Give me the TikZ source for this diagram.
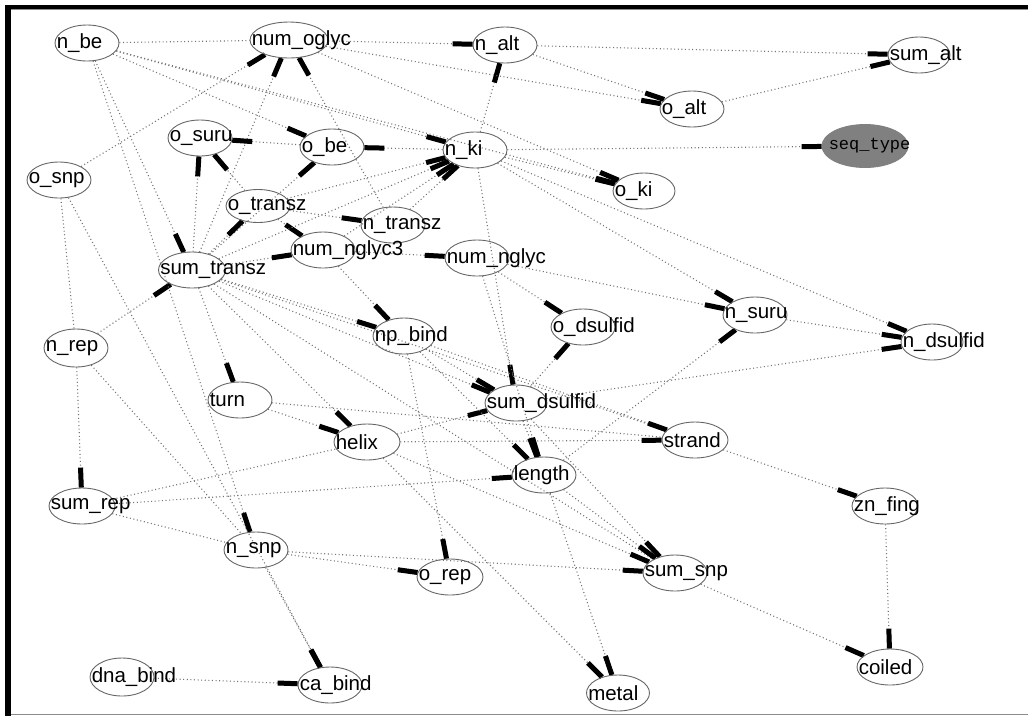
\documentclass[tikz,border=0pt]{standalone}
\usepackage{fontspec}
\setmainfont{Liberation Sans}
\newfontfamily\seqfont{Liberation Mono}
\usetikzlibrary{arrows.meta,shapes.geometric,backgrounds}

\tikzset{
  ell/.style={ellipse, draw=black!60, line width=0.9pt,
              minimum width=64pt, minimum height=36pt, inner sep=0pt},
  lab/.style={anchor=west, inner sep=0pt, font=\fontsize{20.5}{22}\selectfont},
  link/.style={draw=black!55, line width=1.1pt, dash pattern=on 1pt off 2.6pt},
  tip/.style={-{Rectangle[length=20pt,width=5pt,color=black]}},
}

% a variable of the network: an ellipse with its name set from the left edge
\newcommand\netnode[4][]{%
  \node[ell,#1] (#2) at (#3) {};
  \node[lab] (#2-t) at ([xshift=2pt]#2.west) {#4};
}

\begin{document}
\begin{tikzpicture}[x=1pt,y=-1pt]
\useasboundingbox (0,0) rectangle (1028,716);

% window frame
\fill[black] (5,4.5) rectangle (1028,8.5);
\fill[black] (5,4.5) rectangle (11,716);
\draw[black!45, line width=1pt] (11,9.2) -- (1028,9.2);
\draw[black!45, line width=1pt] (11,714.5) -- (1028,714.5);

% ---------------- variables ----------------
\netnode{nbe}{87,43}{n\_be}
\netnode[minimum width=78pt]{numoglyc}{289,40}{num\_oglyc}
\netnode{nalt}{505,45}{n\_alt}
\netnode[minimum width=62pt]{sumalt}{919,55}{sum\_alt}
\netnode{oalt}{692,109}{o\_alt}
\node[ell, fill=black!50, draw=black!50, minimum width=86pt, minimum height=43pt] (seqtype) at (865,146) {};
\node[anchor=west, inner sep=0pt, font=\seqfont\fontsize{17}{19}\selectfont] (seqtype-t) at ([xshift=7pt]seqtype.west) {seq\_type};
\netnode{osuru}{200,138}{o\_suru}
\netnode{obe}{332,147}{o\_be}
\netnode{nki}{475,150}{n\_ki}
\netnode[minimum width=62pt]{oki}{644,191}{o\_ki}
\netnode{osnp}{59,180}{o\_snp}
\netnode[minimum height=33pt]{otransz}{258,206}{o\_transz}
\netnode{ntransz}{393,225}{n\_transz}
\netnode{numnglyc3}{323,250}{num\_nglyc3}
\netnode{numnglyc}{477,258}{num\_nglyc}
\netnode[minimum width=67pt]{sumtransz}{192,270}{sum\_transz}
\netnode{nsuru}{755,315}{n\_suru}
\netnode{odsulfid}{583,327}{o\_dsulfid}
\netnode[minimum width=62pt]{npbind}{404,336}{np\_bind}
\netnode[minimum height=38pt]{nrep}{76,348}{n\_rep}
\netnode[minimum width=62pt]{ndsulfid}{932,342}{n\_dsulfid}
\netnode{turn}{240,400}{turn}
\netnode[minimum width=62pt]{sumdsulfid}{516,403}{sum\_dsulfid}
\netnode[minimum width=66pt]{helix}{367,442}{helix}
\netnode[minimum width=66pt]{strand}{695,440}{strand}
\netnode{length}{544,475}{length}
\netnode[minimum width=66pt]{sumrep}{82,506}{sum\_rep}
\netnode[minimum width=66pt]{znfing}{885,506}{zn\_fing}
\netnode{nsnp}{256,550}{n\_snp}
\netnode[minimum width=66pt]{orep}{450,577}{o\_rep}
\netnode{sumsnp}{675,573}{sum\_snp}
\netnode[minimum width=66pt]{coiled}{890,667}{coiled}
\netnode[minimum height=38pt]{dnabind}{122,677}{dna\_bind}
\netnode{cabind}{330,685}{ca\_bind}
\netnode[minimum width=63pt]{metal}{618,693}{metal}

% ---------------- dependencies ----------------
\begin{pgfonlayer}{background}
% links drawn without a visible head
\draw[link] (nbe) -- (numoglyc);
\draw[link] (osnp) -- (nrep);
\draw[link] (sumrep) -- (helix);
\draw[link] (sumrep) -- (nsnp);
\draw[link] (nrep) -- (nsnp);
\draw[link] (turn) -- (strand);
\draw[link] (sumtransz) -- (strand);
\draw[link] (sumtransz) -- (sumsnp);

% directed links
\foreach \a/\b in {
  osnp/numoglyc, sumtransz/numoglyc, ntransz/numoglyc,
  numoglyc/nalt, nki/nalt,
  nalt/sumalt, oalt/sumalt,
  nalt/oalt, numoglyc/oalt,
  nki/seqtype,
  nbe/oki, numoglyc/oki, nki/oki,
  obe/osuru, nki/obe, nbe/nki, nbe/obe,
  sumtransz/obe, sumtransz/osuru, otransz/osuru,
  sumtransz/otransz, otransz/numnglyc3,
  nbe/sumtransz, nrep/sumtransz, sumtransz/numnglyc3,
  otransz/ntransz,
  otransz/nki, sumtransz/nki, numnglyc3/nki, ntransz/nki,
  numnglyc3/numnglyc,
  numnglyc3/npbind, sumtransz/npbind,
  numnglyc/odsulfid, sumdsulfid/odsulfid,
  nki/nsuru, numnglyc/nsuru, length/nsuru,
  nki/ndsulfid, nsuru/ndsulfid, sumdsulfid/ndsulfid,
  sumtransz/turn,
  nki/sumdsulfid, npbind/sumdsulfid, sumtransz/sumdsulfid, helix/sumdsulfid,
  sumtransz/helix, turn/helix,
  npbind/strand, helix/strand,
  sumdsulfid/length, numnglyc/length, npbind/length, sumrep/length,
  nrep/sumrep,
  strand/znfing,
  znfing/coiled, sumsnp/coiled,
  length/sumsnp, helix/sumsnp, nsnp/sumsnp, sumdsulfid/sumsnp,
  nsnp/orep, npbind/orep,
  nbe/nsnp,
  nsnp/cabind, osnp/cabind, dnabind/cabind,
  length/metal, helix/metal}
  \draw[link,tip] (\a) -- (\b);
\end{pgfonlayer}

\end{tikzpicture}
\end{document}
